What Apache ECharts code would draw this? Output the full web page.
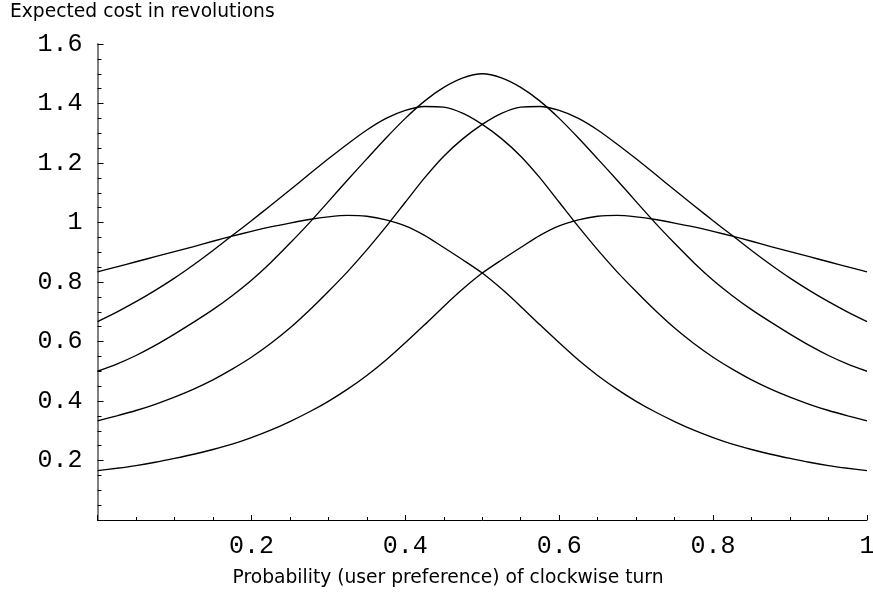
<!DOCTYPE html>
<html>
<head>
<meta charset="utf-8">
<script src="https://cdn.jsdelivr.net/npm/echarts@6/dist/echarts.min.js"></script>
<style>
html,body{margin:0;padding:0;background:#fff;}
#c{width:873px;height:598px;}
</style>
</head>
<body>
<div id="c"></div>
<script>
// Probability values (x)
var P = [0,0.025,0.05,0.075,0.1,0.125,0.15,0.175,0.2,0.225,0.25,0.275,0.3,0.325,0.35,0.375,0.4,0.425,0.45,0.475,
         0.5,0.525,0.55,0.575,0.6,0.625,0.65,0.675,0.7,0.725,0.75,0.775,0.8,0.825,0.85,0.875,0.9,0.925,0.95,0.975,1.0];
// Curves
var curveA  = [0.834,0.851,0.868,0.885,0.902,0.919,0.937,0.954,0.970,0.985,0.998,1.010,1.019,1.024,1.021,1.009,0.989,0.957,0.916,0.874,
               0.830,0.777,0.718,0.656,0.596,0.538,0.486,0.440,0.399,0.363,0.331,0.302,0.277,0.255,0.237,0.221,0.207,0.194,0.183,0.174,0.166];
var curveA2 = [0.166,0.174,0.183,0.194,0.207,0.221,0.237,0.255,0.277,0.302,0.331,0.363,0.399,0.440,0.486,0.538,0.596,0.656,0.718,0.777,
               0.830,0.874,0.916,0.957,0.989,1.009,1.021,1.024,1.019,1.010,0.998,0.985,0.970,0.954,0.937,0.919,0.902,0.885,0.868,0.851,0.834];
var curveB  = [0.667,0.699,0.734,0.772,0.813,0.858,0.906,0.956,1.006,1.057,1.109,1.162,1.214,1.264,1.311,1.350,1.377,1.390,1.388,1.367,
               1.330,1.282,1.223,1.150,1.068,0.986,0.908,0.835,0.768,0.704,0.645,0.593,0.547,0.507,0.471,0.440,0.413,0.389,0.368,0.350,0.333];
var curveB2 = [0.333,0.350,0.368,0.389,0.413,0.440,0.471,0.507,0.547,0.593,0.645,0.704,0.768,0.835,0.908,0.986,1.068,1.150,1.223,1.282,
               1.330,1.367,1.388,1.390,1.377,1.350,1.311,1.264,1.214,1.162,1.109,1.057,1.006,0.956,0.906,0.858,0.813,0.772,0.734,0.699,0.667];
var curveC  = [0.500,0.524,0.553,0.587,0.625,0.665,0.707,0.754,0.806,0.865,0.930,0.998,1.070,1.143,1.214,1.284,1.350,1.408,1.454,1.486,
               1.500,1.486,1.454,1.408,1.350,1.284,1.214,1.143,1.070,0.998,0.930,0.865,0.806,0.754,0.707,0.665,0.625,0.587,0.553,0.524,0.500];

var titleText = 'Expected cost in revolutions';
var xTitle = 'Probability (user preference) of clockwise turn';

function pairs(ys){ return P.map(function(p,i){ return [p, ys[i]]; }); }
function mkSeries(ys){
  return {type:'line', data:pairs(ys), showSymbol:false, smooth:0.25,
    lineStyle:{color:'#000', width:1.35}, silent:true, animation:false};
}
function fmt(v){ if (Math.abs(v) < 1e-9) return ''; return String(+v.toFixed(1)); }

var chart = echarts.init(document.getElementById('c'), null, {renderer:'canvas'});
chart.setOption({
  animation:false,
  backgroundColor:'#fff',
  grid:{left:97.5, right:6, top:44, bottom:78, containLabel:false, outerBoundsMode:'none'},
  xAxis:{type:'value', min:0, max:1, interval:0.2,
    axisLine:{show:true, onZero:false, lineStyle:{color:'#000', width:1}},
    axisTick:{show:true, inside:true, length:5, lineStyle:{color:'#000', width:1}},
    minorTick:{show:true, splitNumber:4, length:3, lineStyle:{color:'#000', width:1}},
    splitLine:{show:false}, minorSplitLine:{show:false},
    axisLabel:{formatter:fmt, fontFamily:'Liberation Mono', fontSize:25, color:'#000', margin:14, hideOverlap:false}
  },
  yAxis:{type:'value', min:0, max:1.6, interval:0.2,
    axisLine:{show:true, onZero:false, lineStyle:{color:'#808080', width:2}},
    axisTick:{show:true, inside:true, length:6, lineStyle:{color:'#000', width:1}},
    minorTick:{show:true, splitNumber:4, length:4, lineStyle:{color:'#000', width:1}},
    splitLine:{show:false}, minorSplitLine:{show:false},
    axisLabel:{formatter:fmt, fontFamily:'Liberation Mono', fontSize:25, color:'#000', margin:15}
  },
  graphic:[
    {type:'text', x:10, y:12.5, style:{text:titleText, font:'18.7px "DejaVu Sans"', fill:'#000', align:'left', verticalAlign:'middle'}},
    {type:'text', x:448, y:578, style:{text:xTitle, font:'18.7px "DejaVu Sans"', fill:'#000', align:'center', verticalAlign:'middle'}}
  ],
  series:[mkSeries(curveA), mkSeries(curveA2), mkSeries(curveB), mkSeries(curveB2), mkSeries(curveC)]
});
</script>
</body>
</html>
